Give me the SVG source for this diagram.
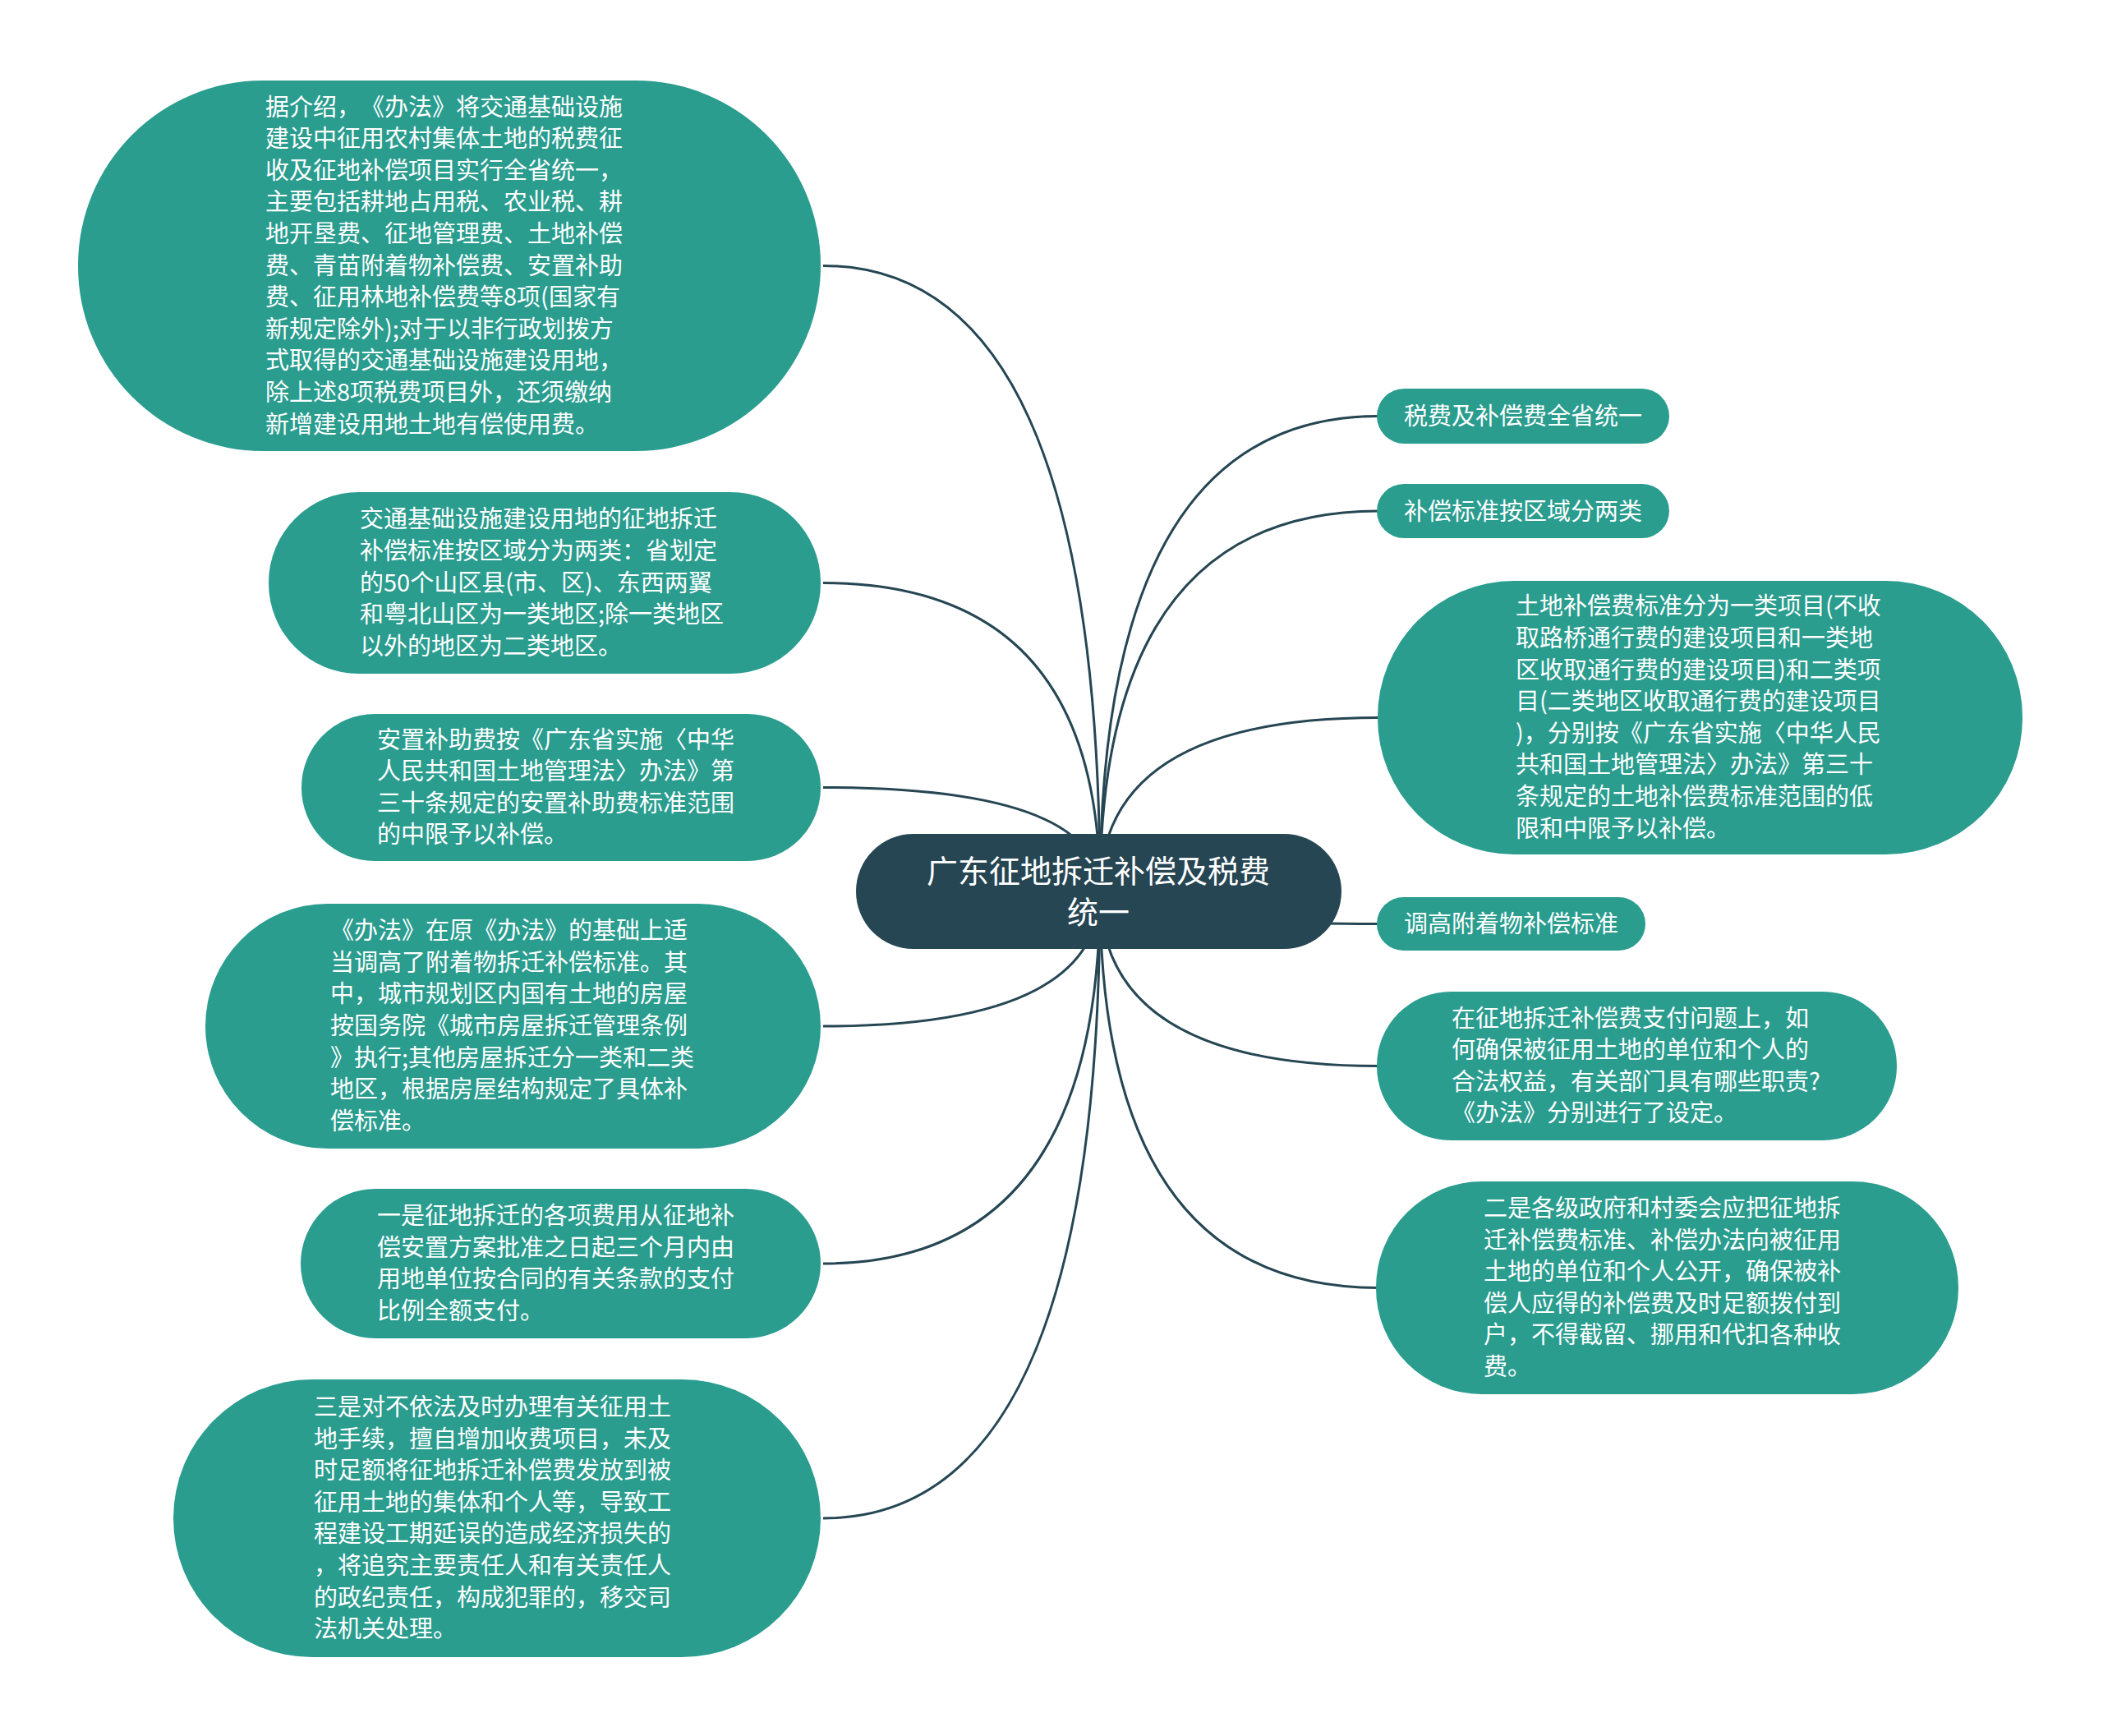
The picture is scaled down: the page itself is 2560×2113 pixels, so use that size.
<svg xmlns="http://www.w3.org/2000/svg" width="2560" height="2113" viewBox="0 0 2560 2113">
<style>
.bg{fill:#ffffff}
.node{fill:#2a9d8f}
.root{fill:#264653}
text{text-spacing-trim:space-all;font-kerning:none}
.t{font-family:"Noto Sans CJK SC","Noto Sans",sans-serif;font-size:29px;fill:#ffffff;dominant-baseline:central}
.rt{font-family:"Noto Sans CJK SC","Noto Sans",sans-serif;font-size:38px;fill:#ffffff;dominant-baseline:central;text-anchor:middle}
.edge{fill:none;stroke:#264653;stroke-width:3}
</style>
<rect class="bg" x="0" y="0" width="2560" height="2113"/>
<g id="connectors">
<path class="edge" d="M1339 1085 Q1339 323.5 1002 323.5"/>
<path class="edge" d="M1339 1085 Q1339 709.5 1002 709.5"/>
<path class="edge" d="M1339 1085 Q1339 958.5 1002 958.5"/>
<path class="edge" d="M1339 1085 Q1339 1249 1002 1249"/>
<path class="edge" d="M1339 1085 Q1339 1538 1002 1538"/>
<path class="edge" d="M1339 1085 Q1339 1848 1002 1848"/>
<path class="edge" d="M1339 1085 Q1339 506.5 1678 506.5"/>
<path class="edge" d="M1339 1085 Q1339 622 1678 622"/>
<path class="edge" d="M1339 1085 Q1339 873.5 1678 873.5"/>
<path class="edge" d="M1339 1085 Q1339 1124.5 1678 1124.5"/>
<path class="edge" d="M1339 1085 Q1339 1297.5 1678 1297.5"/>
<path class="edge" d="M1339 1085 Q1339 1567.5 1678 1567.5"/>
</g>
<g id="root">
<rect class="root" x="1042" y="1015" width="591" height="140" rx="70"/>
<text class="rt" x="1337" y="1057">广东征地拆迁补偿及税费</text>
<text class="rt" x="1337" y="1107">统一</text>
</g>
<g id="L1">
<rect class="node" x="95" y="98" width="904" height="451" rx="225"/>
<text class="t" x="323"><tspan x="323" y="127.5">据介绍，《办法》将交通基础设施</tspan><tspan x="323" y="166.1">建设中征用农村集体土地的税费征</tspan><tspan x="323" y="204.7">收及征地补偿项目实行全省统一，</tspan><tspan x="323" y="243.3">主要包括耕地占用税、农业税、耕</tspan><tspan x="323" y="281.9">地开垦费、征地管理费、土地补偿</tspan><tspan x="323" y="320.5">费、青苗附着物补偿费、安置补助</tspan><tspan x="323" y="359.1">费、征用林地补偿费等8项(国家有</tspan><tspan x="323" y="397.7">新规定除外);对于以非行政划拨方</tspan><tspan x="323" y="436.3">式取得的交通基础设施建设用地，</tspan><tspan x="323" y="474.9">除上述8项税费项目外，还须缴纳</tspan><tspan x="323" y="513.5">新增建设用地土地有偿使用费。</tspan></text>
</g>
<g id="L2">
<rect class="node" x="327" y="599" width="672" height="221" rx="110"/>
<text class="t" x="438"><tspan x="438" y="629.3">交通基础设施建设用地的征地拆迁</tspan><tspan x="438" y="667.9">补偿标准按区域分为两类：省划定</tspan><tspan x="438" y="706.5">的50个山区县(市、区)、东西两翼</tspan><tspan x="438" y="745.1">和粤北山区为一类地区;除一类地区</tspan><tspan x="438" y="783.7">以外的地区为二类地区。</tspan></text>
</g>
<g id="L3">
<rect class="node" x="367" y="869" width="632" height="179" rx="89"/>
<text class="t" x="459"><tspan x="459" y="897.6">安置补助费按《广东省实施〈中华</tspan><tspan x="459" y="936.2">人民共和国土地管理法〉办法》第</tspan><tspan x="459" y="974.8">三十条规定的安置补助费标准范围</tspan><tspan x="459" y="1013.4">的中限予以补偿。</tspan></text>
</g>
<g id="L4">
<rect class="node" x="250" y="1100" width="749" height="298" rx="149"/>
<text class="t" x="402"><tspan x="402" y="1130.2">《办法》在原《办法》的基础上适</tspan><tspan x="402" y="1168.8">当调高了附着物拆迁补偿标准。其</tspan><tspan x="402" y="1207.4">中，城市规划区内国有土地的房屋</tspan><tspan x="402" y="1246">按国务院《城市房屋拆迁管理条例</tspan><tspan x="402" y="1284.6">》执行;其他房屋拆迁分一类和二类</tspan><tspan x="402" y="1323.2">地区，根据房屋结构规定了具体补</tspan><tspan x="402" y="1361.8">偿标准。</tspan></text>
</g>
<g id="L5">
<rect class="node" x="366" y="1447" width="633" height="182" rx="91"/>
<text class="t" x="459"><tspan x="459" y="1477.1">一是征地拆迁的各项费用从征地补</tspan><tspan x="459" y="1515.7">偿安置方案批准之日起三个月内由</tspan><tspan x="459" y="1554.3">用地单位按合同的有关条款的支付</tspan><tspan x="459" y="1592.9">比例全额支付。</tspan></text>
</g>
<g id="L6">
<rect class="node" x="211" y="1679" width="788" height="338" rx="169"/>
<text class="t" x="382"><tspan x="382" y="1709.9">三是对不依法及时办理有关征用土</tspan><tspan x="382" y="1748.5">地手续，擅自增加收费项目，未及</tspan><tspan x="382" y="1787.1">时足额将征地拆迁补偿费发放到被</tspan><tspan x="382" y="1825.7">征用土地的集体和个人等，导致工</tspan><tspan x="382" y="1864.3">程建设工期延误的造成经济损失的</tspan><tspan x="382" y="1902.9">，将追究主要责任人和有关责任人</tspan><tspan x="382" y="1941.5">的政纪责任，构成犯罪的，移交司</tspan><tspan x="382" y="1980.1">法机关处理。</tspan></text>
</g>
<g id="R1">
<rect class="node" x="1676" y="473" width="356" height="67" rx="33.5"/>
<text class="t" x="1709" y="504">税费及补偿费全省统一</text>
</g>
<g id="R2">
<rect class="node" x="1676" y="589" width="356" height="66" rx="33"/>
<text class="t" x="1709" y="619.5">补偿标准按区域分两类</text>
</g>
<g id="R3">
<rect class="node" x="1677" y="707" width="785" height="333" rx="166"/>
<text class="t" x="1845"><tspan x="1845" y="735.4">土地补偿费标准分为一类项目(不收</tspan><tspan x="1845" y="774">取路桥通行费的建设项目和一类地</tspan><tspan x="1845" y="812.6">区收取通行费的建设项目)和二类项</tspan><tspan x="1845" y="851.2">目(二类地区收取通行费的建设项目</tspan><tspan x="1845" y="889.8">)，分别按《广东省实施〈中华人民</tspan><tspan x="1845" y="928.4">共和国土地管理法〉办法》第三十</tspan><tspan x="1845" y="967">条规定的土地补偿费标准范围的低</tspan><tspan x="1845" y="1005.6">限和中限予以补偿。</tspan></text>
</g>
<g id="R4">
<rect class="node" x="1676" y="1092" width="327" height="65" rx="32.5"/>
<text class="t" x="1709" y="1122">调高附着物补偿标准</text>
</g>
<g id="R5">
<rect class="node" x="1676" y="1207" width="633" height="181" rx="90"/>
<text class="t" x="1767"><tspan x="1767" y="1236.6">在征地拆迁补偿费支付问题上，如</tspan><tspan x="1767" y="1275.2">何确保被征用土地的单位和个人的</tspan><tspan x="1767" y="1313.8">合法权益，有关部门具有哪些职责?</tspan><tspan x="1767" y="1352.4">《办法》分别进行了设定。</tspan></text>
</g>
<g id="R6">
<rect class="node" x="1675" y="1438" width="709" height="259" rx="129"/>
<text class="t" x="1806"><tspan x="1806" y="1468">二是各级政府和村委会应把征地拆</tspan><tspan x="1806" y="1506.6">迁补偿费标准、补偿办法向被征用</tspan><tspan x="1806" y="1545.2">土地的单位和个人公开，确保被补</tspan><tspan x="1806" y="1583.8">偿人应得的补偿费及时足额拨付到</tspan><tspan x="1806" y="1622.4">户，不得截留、挪用和代扣各种收</tspan><tspan x="1806" y="1661">费。</tspan></text>
</g>
</svg>
